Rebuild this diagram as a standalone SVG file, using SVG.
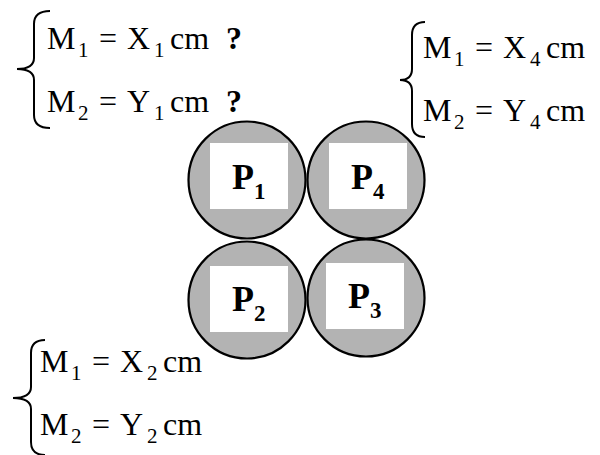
<svg xmlns="http://www.w3.org/2000/svg" width="600" height="455" viewBox="0 0 600 455">
<style>
text{font-family:"Liberation Serif",Tinos,"Times New Roman",Times,"Nimbus Roman","DejaVu Serif",FreeSerif,serif}
.eq{font-size:32px;fill:#000}
.sub{font-size:21px}
.q{font-weight:bold}
.brace{fill:none;stroke:#000;stroke-width:2}
.disc{fill:#b3b3b3;stroke:#000;stroke-width:2.2}
.box{fill:#fff}
.lbl{font-size:36px;font-weight:bold;fill:#000}
.lsub{font-size:23px}
</style>
<rect width="600" height="455" fill="#fff"/>
<g id="eq1">
<path class="brace" d="M50,11 Q34,11 34,24 L34,58 Q34,69 17,69 Q34,69 34,80 L34,115 Q34,128 50,128"/>
<text class="eq" style="font-family:'Liberation Serif',serif" y="48.5"><tspan x="47">M</tspan><tspan class="sub" x="78" dy="8">1</tspan><tspan x="99" dy="-8">=</tspan><tspan x="127">X</tspan><tspan class="sub" x="154" dy="8">1</tspan><tspan x="170" dy="-8">cm</tspan><tspan class="q" x="226">?</tspan></text>
<text class="eq" style="font-family:'Liberation Serif',serif" y="111.5"><tspan x="47">M</tspan><tspan class="sub" x="78" dy="8">2</tspan><tspan x="99" dy="-8">=</tspan><tspan x="127">Y</tspan><tspan class="sub" x="154" dy="8">1</tspan><tspan x="170" dy="-8">cm</tspan><tspan class="q" x="226">?</tspan></text>
</g>
<g id="eq4">
<path class="brace" d="M425,22 Q412,22 412,35 L412,69 Q412,80 400,80 Q412,80 412,91 L412,124 Q412,137 425,137"/>
<text class="eq" style="font-family:'Liberation Serif',serif" y="58"><tspan x="423">M</tspan><tspan class="sub" x="454" dy="8">1</tspan><tspan x="475" dy="-8">=</tspan><tspan x="503">X</tspan><tspan class="sub" x="530" dy="8">4</tspan><tspan x="546" dy="-8">cm</tspan></text>
<text class="eq" style="font-family:'Liberation Serif',serif" y="121"><tspan x="423">M</tspan><tspan class="sub" x="454" dy="8">2</tspan><tspan x="475" dy="-8">=</tspan><tspan x="503">Y</tspan><tspan class="sub" x="530" dy="8">4</tspan><tspan x="546" dy="-8">cm</tspan></text>
</g>
<g id="eq2">
<path class="brace" d="M45,340 Q31,340 31,353 L31,387 Q31,398 13,398 Q31,398 31,409 L31,442 Q31,455 45,455"/>
<text class="eq" style="font-family:'Liberation Serif',serif" y="372"><tspan x="40">M</tspan><tspan class="sub" x="71" dy="8">1</tspan><tspan x="92" dy="-8">=</tspan><tspan x="120">X</tspan><tspan class="sub" x="147" dy="8">2</tspan><tspan x="163" dy="-8">cm</tspan></text>
<text class="eq" style="font-family:'Liberation Serif',serif" y="435"><tspan x="40">M</tspan><tspan class="sub" x="71" dy="8">2</tspan><tspan x="92" dy="-8">=</tspan><tspan x="120">Y</tspan><tspan class="sub" x="147" dy="8">2</tspan><tspan x="163" dy="-8">cm</tspan></text>
</g>
<g id="P1">
<circle class="disc" cx="247" cy="180" r="58.5"/>
<rect class="box" x="210" y="143" width="78" height="66"/>
<text class="lbl" style="font-family:'Liberation Serif',serif" x="232" y="188.5">P<tspan class="lsub" dy="10">1</tspan></text>
</g>
<g id="P4">
<circle class="disc" cx="366" cy="180" r="58.5"/>
<rect class="box" x="329" y="143" width="78" height="66"/>
<text class="lbl" style="font-family:'Liberation Serif',serif" x="351" y="188.5">P<tspan class="lsub" dy="10">4</tspan></text>
</g>
<g id="P2">
<circle class="disc" cx="247" cy="300" r="58.5"/>
<rect class="box" x="210" y="266" width="78" height="66"/>
<text class="lbl" style="font-family:'Liberation Serif',serif" x="232" y="311">P<tspan class="lsub" dy="10">2</tspan></text>
</g>
<g id="P3">
<circle class="disc" cx="366" cy="298" r="58.5"/>
<rect class="box" x="326" y="263" width="78" height="66"/>
<text class="lbl" style="font-family:'Liberation Serif',serif" x="348" y="308">P<tspan class="lsub" dy="10">3</tspan></text>
</g>
<g id="connectors"></g>
</svg>
